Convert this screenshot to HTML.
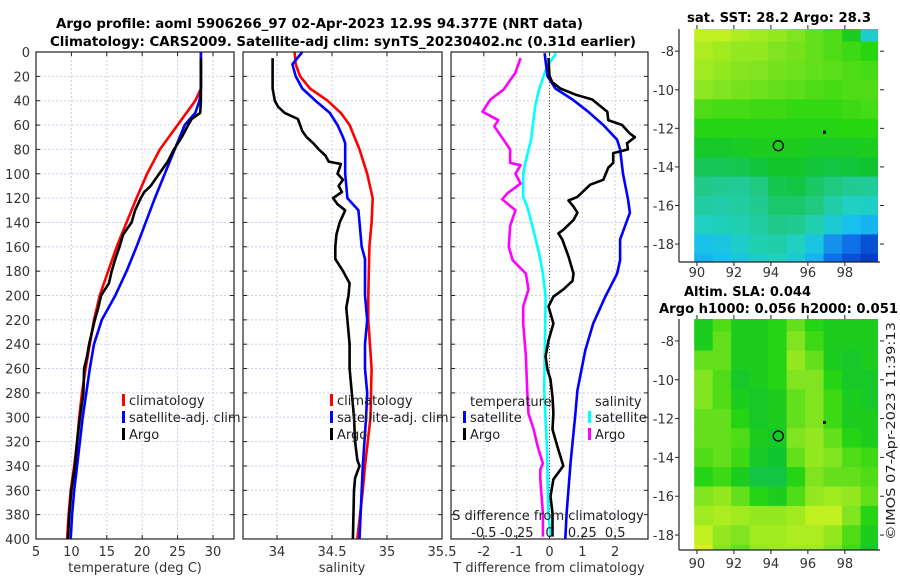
<!DOCTYPE html>
<html><head><meta charset="utf-8"><style>
html,body{margin:0;padding:0;background:#fff;}
svg{display:block;font-family:"DejaVu Sans","Liberation Sans",sans-serif;}
</style></head><body>
<svg id="chart" width="900" height="580" viewBox="0 0 900 580" xmlns="http://www.w3.org/2000/svg">
<text x="56" y="28" font-size="13" font-weight="bold" textLength="527" lengthAdjust="spacingAndGlyphs">Argo profile: aoml 5906266_97 02-Apr-2023 12.9S 94.377E (NRT data)</text>
<text x="50" y="46" font-size="13" font-weight="bold" textLength="586" lengthAdjust="spacingAndGlyphs">Climatology: CARS2009. Satellite-adj clim: synTS_20230402.nc (0.31d earlier)</text>
<g id="plots"></g>
<text x="687" y="22" font-size="13" font-weight="bold" textLength="184" lengthAdjust="spacingAndGlyphs">sat. SST: 28.2 Argo: 28.3</text>
<text x="684" y="296" font-size="13" font-weight="bold" textLength="127" lengthAdjust="spacingAndGlyphs">Altim. SLA: 0.044</text>
<text x="659" y="313" font-size="13" font-weight="bold" textLength="239" lengthAdjust="spacingAndGlyphs">Argo h1000: 0.056 h2000: 0.051</text>
<text transform="translate(895,540) rotate(-90)" font-size="12" fill="#222" textLength="218" lengthAdjust="spacingAndGlyphs">©IMOS 07-Apr-2023 11:39:13</text>
</svg>
<script>
// ---------- data ----------
const depthTicks = [0,20,40,60,80,100,120,140,160,180,200,220,240,260,280,300,320,340,360,380,400];
const tempTicks = [5,10,15,20,25,30];
const salTicks = [34,34.5,35,35.5];
const salTickLabels = ["34","34.5","35","35.5"];
const dTTicks = [-2,-1,0,1,2];
const dSTicks = [-0.5,-0.25,0,0.25,0.5];
const dSTickLabels = ["-0.5","-0.25","0","0.25","0.5"];

const climTDepth = [0,30,40,60,80,100,120,140,160,180,200,220,240,260,280,300,320,340,360,380,400];
const climT = [28.3,28.3,27.5,25.0,22.5,20.7,19.2,17.8,16.4,15.2,14.0,13.2,12.6,12.0,11.5,11.1,10.8,10.4,9.9,9.6,9.4];
const satTDepth = [0,30,40,50,60,80,100,120,140,160,180,200,220,240,260,280,300,320,340,360,380,400];
const satT = [28.3,28.3,28.1,27.5,26.0,24.6,23.2,21.8,20.5,19.2,17.8,16.2,14.3,13.2,12.6,12.1,11.6,11.2,10.8,10.4,10.1,9.9];
const argoTDepth = [5,40,50,55,60,70,80,90,100,110,115,120,130,140,150,160,170,180,190,200,210,220,240,250,260,280,300,320,340,360,380,400];
const argoT = [28.3,28.3,28.2,27.0,26.5,25.6,24.5,23.6,22.4,21.2,20.3,19.8,19.0,18.5,17.3,16.8,16.2,15.7,15.3,14.2,13.8,13.3,12.5,12.2,11.8,11.7,11.2,10.8,10.5,10.0,9.7,9.5];

const climSDepth = [0,10,20,30,40,50,60,80,100,120,140,160,200,220,260,300,340,360,400];
const climS = [34.16,34.17,34.21,34.30,34.46,34.58,34.66,34.75,34.82,34.87,34.86,34.84,34.83,34.83,34.86,34.85,34.80,34.78,34.73];
const satSDepth = [0,10,20,30,40,50,60,70,75,100,120,130,160,170,200,220,240,260,280,300,340,400];
const satS = [34.23,34.14,34.17,34.23,34.35,34.48,34.55,34.60,34.62,34.62,34.64,34.74,34.77,34.80,34.80,34.82,34.80,34.80,34.82,34.81,34.78,34.75];
const argoSDepth = [5,30,40,45,50,55,60,65,70,75,80,85,90,92,95,100,105,110,115,120,125,130,140,150,160,170,180,190,200,210,240,260,280,300,320,335,340,350,360,400];
const argoS = [33.96,33.96,33.98,34.01,34.07,34.19,34.21,34.23,34.27,34.33,34.38,34.44,34.47,34.58,34.57,34.55,34.60,34.56,34.59,34.51,34.55,34.62,34.57,34.54,34.53,34.53,34.60,34.66,34.65,34.63,34.66,34.66,34.68,34.70,34.71,34.73,34.75,34.71,34.70,34.69];

const dTSatDepth = [1,20,30,39,49,60,72,80,100,121,132,143,154,171,182,201,223,245,278,297,338,379,400];
const dTSat = [-0.15,-0.06,0.18,0.7,1.18,1.64,2.06,2.15,2.24,2.39,2.45,2.3,2.15,2.15,2.06,1.7,1.33,1.09,0.85,0.79,0.64,0.52,0.48];
const dTArgoDepth = [5,20,25,30,35,39,49,56,60,67,70,75,80,83,91,95,105,109,119,122,127,132,138,146,149,154,168,182,188,195,201,209,223,237,250,261,269,283,297,310,324,340,351,365,379,398];
const dTArgo = [-0.03,0,0.09,0.33,0.79,1.3,1.76,1.79,2.21,2.45,2.6,2.36,2.39,1.94,1.94,1.79,1.64,1.24,0.85,0.58,0.73,0.85,0.73,0.42,0.27,0.39,0.58,0.73,0.7,0.42,0.12,-0.03,0.12,-0.03,-0.12,-0.06,0.03,0.09,0.12,0.09,0.24,0.42,0.12,0.03,0.09,0.09];
const dSArgoDepth = [5,17,31,39,49,56,61,72,80,91,93,100,108,116,121,130,143,160,171,182,195,209,223,250,278,297,310,324,338,343,351,379,398];
const dSArgo = [-0.22,-0.26,-0.35,-0.45,-0.51,-0.39,-0.42,-0.35,-0.3,-0.3,-0.22,-0.26,-0.22,-0.32,-0.36,-0.26,-0.3,-0.31,-0.28,-0.18,-0.16,-0.2,-0.2,-0.18,-0.17,-0.16,-0.12,-0.09,-0.05,-0.07,-0.07,-0.05,-0.05];
const dSSatDepth = [1,12,31,45,72,89,100,119,127,143,165,182,201,278,324,379,398];
const dSSat = [0.05,-0.02,-0.08,-0.11,-0.14,-0.18,-0.2,-0.2,-0.17,-0.13,-0.08,-0.05,-0.03,-0.04,-0.02,-0.01,0.01];

const mapLons = [90,91,92,93,94,95,96,97,98,99];
const mapLats = [-7,-8,-9,-10,-11,-12,-13,-14,-15,-16,-17,-18,-19];
const sstGrid = [
[0.85,0.85,0.82,0.8,0.78,0.75,0.72,0.7,0.62,0.4],
[0.82,0.8,0.78,0.78,0.75,0.74,0.72,0.7,0.68,0.66],
[0.8,0.78,0.76,0.75,0.74,0.73,0.72,0.71,0.7,0.69],
[0.77,0.75,0.74,0.73,0.72,0.71,0.7,0.69,0.7,0.7],
[0.7,0.69,0.69,0.68,0.68,0.67,0.67,0.67,0.68,0.69],
[0.65,0.65,0.65,0.65,0.65,0.65,0.65,0.65,0.66,0.66],
[0.6,0.6,0.61,0.62,0.62,0.62,0.61,0.61,0.61,0.62],
[0.54,0.54,0.55,0.57,0.59,0.59,0.57,0.56,0.57,0.58],
[0.49,0.48,0.47,0.5,0.55,0.56,0.53,0.5,0.48,0.47],
[0.46,0.45,0.46,0.48,0.52,0.52,0.5,0.45,0.42,0.41],
[0.42,0.43,0.44,0.46,0.49,0.48,0.44,0.38,0.32,0.3],
[0.33,0.35,0.4,0.44,0.45,0.42,0.35,0.25,0.2,0.15],
[0.3,0.32,0.36,0.4,0.42,0.38,0.3,0.2,0.15,0.12]];
const slaGrid = [
[0.62,0.7,0.62,0.62,0.65,0.72,0.65,0.62,0.62,0.62],
[0.62,0.72,0.62,0.62,0.65,0.75,0.68,0.62,0.62,0.62],
[0.72,0.72,0.62,0.62,0.65,0.78,0.72,0.62,0.6,0.62],
[0.75,0.7,0.6,0.62,0.65,0.75,0.75,0.65,0.6,0.6],
[0.75,0.7,0.62,0.6,0.62,0.72,0.75,0.68,0.62,0.6],
[0.72,0.72,0.65,0.6,0.62,0.72,0.75,0.68,0.62,0.62],
[0.72,0.72,0.7,0.62,0.6,0.75,0.78,0.72,0.65,0.62],
[0.7,0.72,0.68,0.6,0.58,0.72,0.78,0.75,0.7,0.68],
[0.65,0.68,0.62,0.56,0.56,0.65,0.75,0.72,0.72,0.7],
[0.75,0.78,0.72,0.65,0.62,0.7,0.78,0.8,0.78,0.72],
[0.8,0.82,0.8,0.78,0.78,0.8,0.85,0.85,0.75,0.65],
[0.85,0.78,0.75,0.8,0.8,0.82,0.82,0.78,0.7,0.62],
[0.9,0.75,0.72,0.78,0.8,0.8,0.8,0.75,0.68,0.6]];
const mapLonTicks = [90,92,94,96,98];
const mapLatTicks = [-8,-10,-12,-14,-16,-18];
const argoPos = [94.4,-12.9];
const dotPos = [96.9,-12.2];

// ---------- helpers ----------
const NS = "http://www.w3.org/2000/svg";
const root = document.getElementById('plots');
function mk(tag, attrs, parent){ const e=document.createElementNS(NS,tag); for(const k in attrs) e.setAttribute(k,attrs[k]); (parent||root).appendChild(e); return e; }
function txt(s, attrs, parent){ const e=mk('text',attrs,parent); e.textContent=s; return e; }
function lin(d0,d1,r0,r1){ return v => r0 + (v-d0)/(d1-d0)*(r1-r0); }

const Y0=52, Y1=539;
const yD = lin(0,400,Y0,Y1);
const panels = [
  {name:'temperature-panel', x0:36, x1:234, d:[5,32.97]},
  {name:'salinity-panel', x0:243, x1:442, d:[33.6909,35.5]},
  {name:'difference-panel', x0:451, x1:648, d:[-3,3]}
];
panels.forEach(p => p.sx = lin(p.d[0],p.d[1],p.x0,p.x1));
const dSx = lin(-0.75,0.75,451,648);

function frame(p, xTicks, xLabels, showY){
  const g = mk('g',{});
  
  
  depthTicks.forEach(t=>{
    const l = mk('line',{x1:p.x0,x2:p.x1,y1:yD(t),y2:yD(t),stroke:'#cdd0ec','stroke-width':1,'stroke-dasharray':'2,2'},g);
    
    
    mk('line',{x1:p.x0,x2:p.x0+4,y1:yD(t),y2:yD(t),stroke:'#222'},g);
    mk('line',{x1:p.x1-4,x2:p.x1,y1:yD(t),y2:yD(t),stroke:'#222'},g);
    if(showY){ const e=txt(String(t),{x:30,y:yD(t)+5,'font-size':13,'text-anchor':'end',fill:'#333'},g);
        }
  });
  xTicks.forEach((t,i)=>{
    const x=p.sx(t);
    if(x>p.x0+1 && x<p.x1-1){
      const l = mk('line',{x1:x,x2:x,y1:Y0,y2:Y1,stroke:'#cdd0ec','stroke-width':1,'stroke-dasharray':'2,2'},g);
      
      
    }
    mk('line',{x1:x,x2:x,y1:Y1-4,y2:Y1,stroke:'#222'},g);
    mk('line',{x1:x,x2:x,y1:Y0,y2:Y0+4,stroke:'#222'},g);
    const e=txt(xLabels[i],{x:x,y:556,'font-size':13,'text-anchor':'middle',fill:'#333'},g);
    
    
  });
  return g;
}
function series(p, sx, depths, vals, color, name){
  const pts = depths.map((d,i)=> sx(vals[i]).toFixed(1)+','+yD(d).toFixed(1)).join(' ');
  const e = mk('polyline',{points:pts,fill:'none',stroke:color,'stroke-width':2.6,'stroke-linejoin':'round'});
  
  
  return e;
}
function border(p){ mk('rect',{x:p.x0,y:Y0,width:p.x1-p.x0,height:Y1-Y0,fill:'none',stroke:'#222','stroke-width':1.2}); }
function legendItem(x,y,color,label,name){
  const b=mk('rect',{x:x,y:y-11,width:3,height:12,fill:color});
  
  
  const t=txt(label,{x:x+7,y:y,'font-size':13,fill:'#222'});
  
  
}

// ---------- temperature ----------
const P1=panels[0];
frame(P1, tempTicks, tempTicks.map(String), true);
series(P1,P1.sx,climTDepth,climT,'#ff0000','temp-climatology-line');
series(P1,P1.sx,satTDepth,satT,'#0000ff','temp-satellite-line');
series(P1,P1.sx,argoTDepth,argoT,'#000000','temp-argo-line');
border(P1);
legendItem(122,405,'#ff0000','climatology','legend-climatology');
legendItem(122,422,'#0000ff','satellite-adj. clim','legend-satellite-adj');
legendItem(122,439,'#000000','Argo','legend-argo');
let at=txt('temperature (deg C)',{x:135,y:572,'font-size':13,'text-anchor':'middle',fill:'#333'});
 

// ---------- salinity ----------
const P2=panels[1];
frame(P2, salTicks, salTickLabels, false);
series(P2,P2.sx,climSDepth,climS,'#ff0000','sal-climatology-line');
series(P2,P2.sx,satSDepth,satS,'#0000ff','sal-satellite-line');
series(P2,P2.sx,argoSDepth,argoS,'#000000','sal-argo-line');
border(P2);
legendItem(330,405,'#ff0000','climatology','legend-sal-climatology');
legendItem(330,422,'#0000ff','satellite-adj. clim','legend-sal-satellite-adj');
legendItem(330,439,'#000000','Argo','legend-sal-argo');
at=txt('salinity',{x:342,y:572,'font-size':13,'text-anchor':'middle',fill:'#333'});
 

// ---------- differences ----------
const P3=panels[2];
frame(P3, dTTicks, dTTicks.map(String), false);
const zl=mk('line',{x1:P3.sx(0),x2:P3.sx(0),y1:Y0,y2:Y1,stroke:'#555','stroke-width':1,'stroke-dasharray':'1,2'});
 
series(P3,dSx,dSSatDepth,dSSat,'#00ffff','dS-satellite-line');
series(P3,dSx,dSArgoDepth,dSArgo,'#ff00ff','dS-argo-line');
series(P3,P3.sx,dTSatDepth,dTSat,'#0000ff','dT-satellite-line');
series(P3,P3.sx,dTArgoDepth,dTArgo,'#000000','dT-argo-line');
border(P3);
let lt=txt('temperature',{x:470,y:406,'font-size':13,fill:'#222'});  
lt=txt('salinity',{x:595,y:406,'font-size':13,fill:'#222'});  
legendItem(463,422,'#0000ff','satellite','legend-dT-satellite');
legendItem(463,439,'#000000','Argo','legend-dT-argo');
legendItem(588,422,'#00ffff','satellite','legend-dS-satellite');
legendItem(588,439,'#ff00ff','Argo','legend-dS-argo');
lt=txt('S difference from climatology',{x:548,y:520,'font-size':13,'text-anchor':'middle',fill:'#222'});  
dSTicks.forEach((t,i)=>{ const e=txt(dSTickLabels[i],{x:dSx(t),y:537,'font-size':13,'text-anchor':'middle',fill:'#222'});
    });
at=txt('T difference from climatology',{x:549,y:572,'font-size':13,'text-anchor':'middle',fill:'#333'});
 

// ---------- maps ----------
const stops=[[0.1,[0,48,192]],[0.2,[16,112,232]],[0.32,[24,192,240]],[0.42,[32,208,192]],[0.5,[32,200,128]],[0.58,[16,196,48]],[0.66,[40,214,16]],[0.75,[128,228,32]],[0.85,[192,240,32]],[0.95,[240,240,32]]];
function cmap(v){
  if(v<=stops[0][0]) return 'rgb('+stops[0][1]+')';
  for(let i=1;i<stops.length;i++){ if(v<=stops[i][0]){ const a=stops[i-1],b=stops[i],f=(v-a[0])/(b[0]-a[0]);
    return 'rgb('+a[1].map((c,k)=>Math.round(c+(b[1][k]-c)*f)).join(',')+')'; } }
  return 'rgb('+stops[stops.length-1][1]+')';
}
function drawMap(name, grid, fy0, fy1, latTop, latBot, dataX0, labelY){
  const fx0=679, fx1=880;
  const sx=lin(89.03,99.9,fx0,fx1), sy=lin(latTop,latBot,fy0,fy1);
  const g=mk('g',{});
  
  
  const cid=name+'-clip';
  const cp=mk('clipPath',{id:cid},g); mk('rect',{x:dataX0,y:fy0,width:fx1-dataX0-2,height:fy1-fy0},cp);
  const cells=mk('g',{'clip-path':'url(#'+cid+')'},g);
  grid.forEach((row,r)=>row.forEach((v,c)=>{
    const x=sx(mapLons[c]-0.15), y=sy(mapLats[r]+0.5);
    const cell=mk('rect',{x:x.toFixed(1),y:y.toFixed(1),width:(sx(1)-sx(0)+0.6).toFixed(1),height:(sy(-1)-sy(0)+0.6).toFixed(1),fill:cmap(v)},cells);
    
    
  }));
  mk('line',{x1:fx0,x2:fx0,y1:fy0,y2:fy1,stroke:'#222','stroke-width':1.2},g);
  mk('line',{x1:fx0,x2:fx1,y1:fy1,y2:fy1,stroke:'#222','stroke-width':1.2},g);
  mapLatTicks.forEach(t=>{ mk('line',{x1:fx0-4,x2:fx0,y1:sy(t),y2:sy(t),stroke:'#222'},g); mk('line',{x1:fx1,x2:fx1+4,y1:sy(t),y2:sy(t),stroke:'#222'},g);
    const e=txt(String(t),{x:674,y:sy(t)+5,'font-size':13,'text-anchor':'end',fill:'#333'},g);
      });
  mapLonTicks.forEach(t=>{ mk('line',{x1:sx(t),x2:sx(t),y1:fy1,y2:fy1+4,stroke:'#222'},g); mk('line',{x1:sx(t),x2:sx(t),y1:fy0-4,y2:fy0,stroke:'#222'},g);
    const e=txt(String(t),{x:sx(t),y:labelY,'font-size':13,'text-anchor':'middle',fill:'#333'},g);
      });
  const c=mk('circle',{cx:sx(argoPos[0]),cy:sy(argoPos[1]),r:5,fill:'none',stroke:'#000','stroke-width':1.3},g);
   
  const d=mk('rect',{x:sx(dotPos[0])-1.5,y:sy(dotPos[1])-1.5,width:3,height:3,fill:'#000'},g);
   
}
drawMap('sst-map', sstGrid, 29, 262, -6.85, -18.93, 694, 277);
drawMap('sla-map', slaGrid, 319, 550, -6.87, -18.77, 694, 568);
</script>
</body></html>
